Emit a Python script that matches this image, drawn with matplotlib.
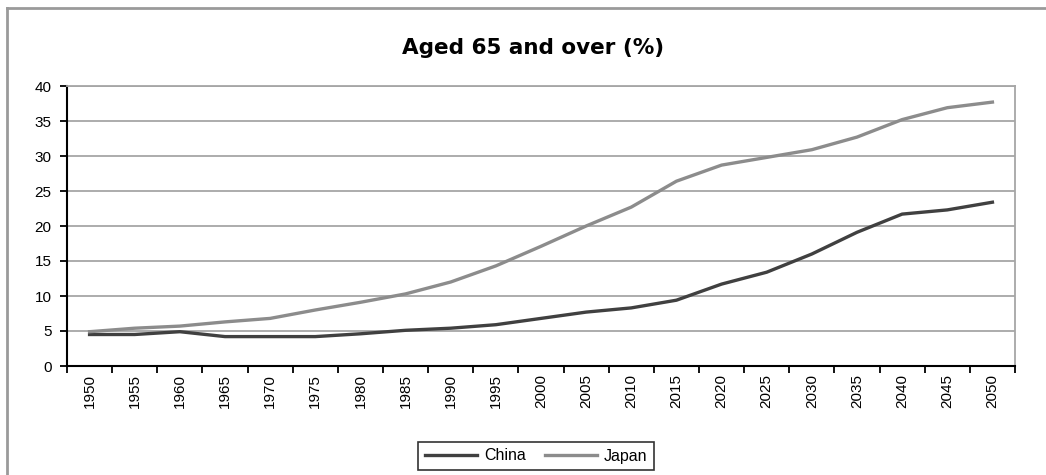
import matplotlib
matplotlib.use("Agg")
import matplotlib.pyplot as plt
from matplotlib.lines import Line2D

# share of population aged 65 and over, 1950-2050
years = [1950, 1955, 1960, 1965, 1970, 1975, 1980, 1985, 1990, 1995, 2000,
         2005, 2010, 2015, 2020, 2025, 2030, 2035, 2040, 2045, 2050]
china = [4.5, 4.5, 4.9, 4.2, 4.2, 4.2, 4.6, 5.1, 5.4, 5.9, 6.8,
         7.7, 8.3, 9.4, 11.7, 13.4, 16.0, 19.1, 21.7, 22.3, 23.4]
japan = [4.9, 5.4, 5.7, 6.3, 6.8, 8.0, 9.1, 10.3, 12.0, 14.3, 17.1,
         20.0, 22.7, 26.4, 28.7, 29.8, 30.9, 32.7, 35.2, 36.9, 37.7]
y_ticks = [0, 5, 10, 15, 20, 25, 30, 35, 40]

W, H = 1046, 475
fig = plt.figure(figsize=(W / 100, H / 100), dpi=100)
fig.patch.set_facecolor("white")

# chart-area frame (only top and left edges fall inside the image)
frame_col = "#9a9a9a"
fig.add_artist(Line2D([7 / W, 1], [1 - 8 / H, 1 - 8 / H], transform=fig.transFigure,
                      color=frame_col, lw=2))
fig.add_artist(Line2D([7 / W, 7 / W], [0, 1 - 8 / H], transform=fig.transFigure,
                      color=frame_col, lw=2))

left, right, top, bottom = 67, 1015, 86, 366
ax = fig.add_axes([left / W, 1 - bottom / H, (right - left) / W, (bottom - top) / H])

pos = list(range(len(years)))
ax.plot(pos, china, color="#404040", lw=2.4, label="China", solid_joinstyle="round")
ax.plot(pos, japan, color="#8c8c8c", lw=2.4, label="Japan", solid_joinstyle="round")

ax.set_xlim(-0.5, len(years) - 0.5)
ax.set_ylim(0, 40)

# gridlines
ax.set_yticks(y_ticks)
ax.yaxis.grid(True, color="#a6a6a6", lw=1.3)
ax.set_axisbelow(True)

# category labels centred, tick marks between categories
ax.set_xticks(pos)
ax.set_xticklabels([str(y) for y in years], rotation=90, fontsize=11,
                   family="Liberation Sans")
ax.set_xticks([p - 0.5 for p in pos] + [len(years) - 0.5], minor=True)
ax.tick_params(axis="x", which="major", length=0, pad=6)
ax.tick_params(axis="x", which="minor", length=5, width=1.3, color="black")
ax.tick_params(axis="y", length=5, width=1.3, labelsize=11, pad=6)
for lab in ax.get_yticklabels():
    lab.set_family("Liberation Sans")

ax.spines["left"].set_color("black")
ax.spines["bottom"].set_color("black")
ax.spines["left"].set_linewidth(1.5)
ax.spines["bottom"].set_linewidth(1.5)
ax.spines["top"].set_color("#a6a6a6")
ax.spines["right"].set_color("#a6a6a6")
ax.spines["top"].set_linewidth(1.3)
ax.spines["right"].set_linewidth(1.3)

fig.text(533 / W, 1 - 48 / H, "Aged 65 and over (%)", ha="center", va="center",
         fontsize=15.5, fontweight="bold", family="DejaVu Sans")

leg = fig.legend(loc="center", bbox_to_anchor=(536 / W, 1 - 456 / H), ncol=2,
                 frameon=True, fancybox=False, handlelength=3.3,
                 columnspacing=1.2, handletextpad=0.4, borderpad=0.4,
                 prop={"family": "Liberation Sans", "size": 11.5})
leg.get_frame().set_edgecolor("black")
leg.get_frame().set_linewidth(1.2)

fig.savefig("out.png", dpi=100)
